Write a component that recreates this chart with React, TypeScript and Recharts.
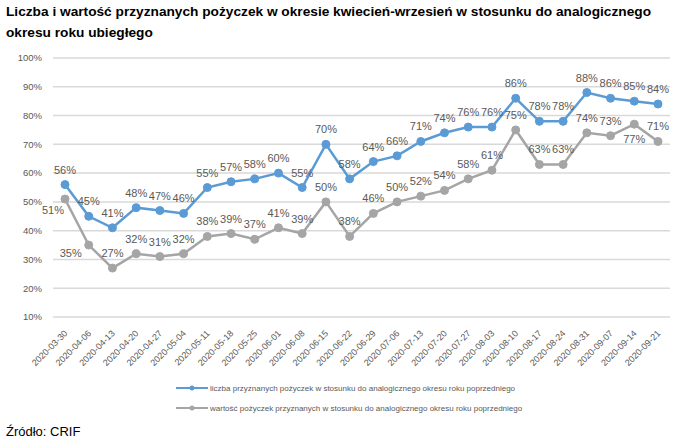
import { CartesianGrid, Legend, LabelList, Line, LineChart, XAxis, YAxis } from "recharts";

const dates = [
  "2020-03-30", "2020-04-06", "2020-04-13", "2020-04-20", "2020-04-27", "2020-05-04",
  "2020-05-11", "2020-05-18", "2020-05-25", "2020-06-01", "2020-06-08", "2020-06-15",
  "2020-06-22", "2020-06-29", "2020-07-06", "2020-07-13", "2020-07-20", "2020-07-27",
  "2020-08-03", "2020-08-10", "2020-08-17", "2020-08-24", "2020-08-31", "2020-09-07",
  "2020-09-14", "2020-09-21",
];
const liczba = [56, 45, 41, 48, 47, 46, 55, 57, 58, 60, 55, 70, 58, 64, 66, 71, 74, 76, 76, 86, 78, 78, 88, 86, 85, 84];
const wartosc = [51, 35, 27, 32, 31, 32, 38, 39, 37, 41, 39, 50, 38, 46, 50, 52, 54, 58, 61, 75, 63, 63, 74, 73, 77, 71];
const yTicks = [10, 20, 30, 40, 50, 60, 70, 80, 90, 100];

const BLUE = "#5b9bd5";
const GRAY = "#a5a5a5";
const TEXT = "#595959";
const FONT = "'Liberation Sans', Arial, sans-serif";

const data = dates.map((d, i) => ({ date: d, liczba: liczba[i], wartosc: wartosc[i] }));

// where the gray labels don't sit above the point
const grayPlacement: Record<number, [number, number]> = {
  0: [-12, 15],
  1: [-18, 12],
  24: [0, 19],
};

function makeLabel(series: "blue" | "gray") {
  return (props: any) => {
    const { x, y, value, index } = props;
    let dx = 0;
    let dy = -11;
    if (series === "gray" && grayPlacement[index]) {
      [dx, dy] = grayPlacement[index];
    }
    return (
      <text x={x + dx} y={y + dy} textAnchor="middle" fontSize={11} fill={TEXT} fontFamily={FONT}>
        {value}%
      </text>
    );
  };
}

function DateTick(props: any) {
  const { x, y, payload } = props;
  return (
    <text
      x={x + 3}
      y={y + 9}
      textAnchor="end"
      fontSize={9}
      fill={TEXT}
      fontFamily={FONT}
      transform={`rotate(-45 ${x + 3} ${y + 9})`}
    >
      {payload.value}
    </text>
  );
}

const legendItems = [
  { color: BLUE, text: "liczba przyznanych pożyczek w stosunku do analogicznego okresu roku poprzedniego" },
  { color: GRAY, text: "wartość pożyczek przyznanych w stosunku do analogicznego okresu roku poprzedniego" },
];

function LegendBox() {
  return (
    <div style={{ fontFamily: FONT, fontSize: 8, color: TEXT }}>
      {legendItems.map((it) => (
        <div key={it.text} style={{ display: "flex", alignItems: "center", height: 20 }}>
          <svg width={32} height={8} style={{ marginRight: 2 }}>
            <line x1={0} y1={4} x2={32} y2={4} stroke={it.color} strokeWidth={2} />
            <circle cx={16} cy={4} r={2.5} fill={it.color} />
          </svg>
          <span>{it.text}</span>
        </div>
      ))}
    </div>
  );
}

export default function App() {
  return (
    <div style={{ position: "relative", width: 700, height: 445, background: "#fff", overflow: "hidden" }}>
      <style>{`body{margin:0}`}</style>
      <div
        style={{
          position: "absolute",
          left: 6,
          top: 1,
          fontFamily: FONT,
          fontWeight: "bold",
          fontSize: 13.7,
          lineHeight: "21px",
          color: "#000",
        }}
      >
        Liczba i wartość przyznanych pożyczek w okresie kwiecień-wrzesień w stosunku do analogicznego
        <br />
        okresu roku ubiegłego
      </div>
      <div style={{ position: "absolute", left: 0, top: 0 }}>
        <LineChart width={700} height={445} data={data} margin={{ top: 58, right: 30, left: 0, bottom: 68 }}>
          <CartesianGrid vertical={false} stroke="#d9d9d9" strokeWidth={1.5} />
          <XAxis
            dataKey="date"
            interval={0}
            height={60}
            padding={{ left: 12, right: 12 }}
            tick={<DateTick />}
            axisLine={false}
            tickLine={false}
          />
          <YAxis
            domain={[10, 100]}
            ticks={yTicks}
            width={53}
            axisLine={false}
            tickLine={false}
            tickFormatter={(v) => `${v}%`}
            tick={{ fontSize: 9.5, fill: TEXT, fontFamily: FONT, dx: -3 }}
          />
          <Legend
            layout="vertical"
            verticalAlign="middle"
            align="center"
            content={<LegendBox />}
            wrapperStyle={{ top: 378, left: 176, width: 480 }}
          />
          <Line
            dataKey="liczba"
            stroke={BLUE}
            strokeWidth={2.5}
            dot={{ r: 4, fill: BLUE, stroke: BLUE, strokeWidth: 1 }}
            isAnimationActive={false}
          >
            <LabelList dataKey="liczba" content={makeLabel("blue")} />
          </Line>
          <Line
            dataKey="wartosc"
            stroke={GRAY}
            strokeWidth={2.5}
            dot={{ r: 4, fill: GRAY, stroke: GRAY, strokeWidth: 1 }}
            isAnimationActive={false}
          >
            <LabelList dataKey="wartosc" content={makeLabel("gray")} />
          </Line>
        </LineChart>
      </div>
      <div
        style={{ position: "absolute", left: 6, top: 424, fontFamily: FONT, fontSize: 13, color: "#000" }}
      >
        Źródło: CRIF
      </div>
    </div>
  );
}
